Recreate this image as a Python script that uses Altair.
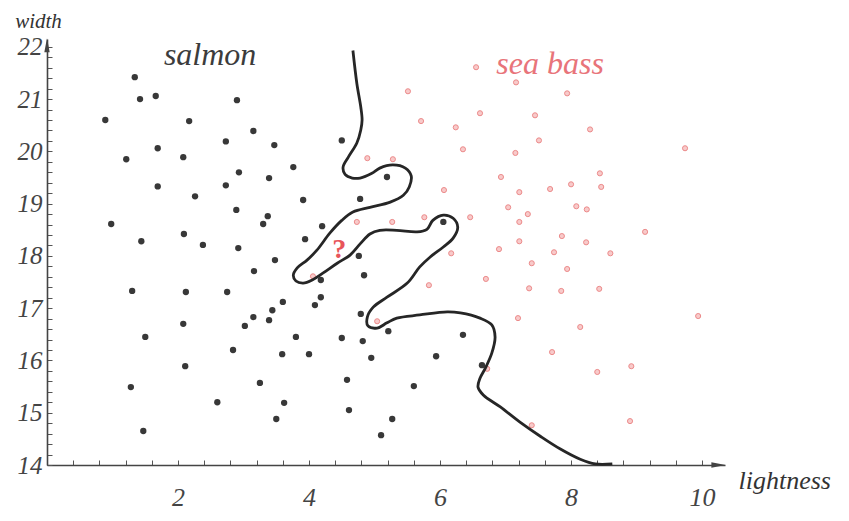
import altair as alt
import pandas as pd

# ---------------- data ----------------
salmon_lightness = [1.34, 1.42, 1.66, 2.90, 0.89, 2.17, 3.15, 2.73, 3.47, 4.50,
                    1.21, 1.69, 2.08, 2.93, 3.39, 3.76, 1.69, 2.73, 2.26, 3.91,
                    4.78, 2.89, 3.37, 3.30, 4.20, 0.98, 2.09, 1.44, 2.38, 2.92,
                    3.94, 3.48, 3.16, 4.76, 4.18, 4.84, 1.30, 2.12, 2.75, 4.18,
                    3.60, 4.09, 3.44, 2.08, 3.15, 3.02, 3.39, 4.79, 1.50, 3.80,
                    4.50, 4.82, 2.84, 3.59, 4.00, 4.95, 2.11, 1.28, 3.25, 4.58,
                    2.60, 3.62, 4.61, 3.50, 1.47, 5.19, 6.05, 5.21, 6.35, 5.94,
                    6.64, 5.60, 5.27, 5.10]
salmon_width = [21.42, 21.00, 21.06, 20.98, 20.60, 20.58, 20.39, 20.19, 20.12, 20.21,
                19.85, 20.06, 19.89, 19.60, 19.49, 19.70, 19.33, 19.35, 19.14, 19.07,
                19.09, 18.88, 18.76, 18.61, 18.57, 18.61, 18.42, 18.28, 18.21, 18.15,
                18.32, 17.92, 17.71, 18.00, 17.54, 17.63, 17.33, 17.31, 17.31, 17.21,
                17.12, 17.06, 16.96, 16.70, 16.83, 16.66, 16.77, 16.89, 16.45, 16.45,
                16.43, 16.37, 16.20, 16.12, 16.12, 16.05, 15.89, 15.49, 15.57, 15.63,
                15.20, 15.19, 15.05, 14.88, 14.65, 19.51, 18.65, 16.56, 16.49, 16.08,
                15.91, 15.51, 14.88, 14.57]

seabass_lightness = [6.55, 7.16, 5.51, 7.94, 6.61, 7.45, 5.71, 6.24, 8.29, 7.51,
                     9.74, 6.35, 7.15, 4.89, 5.28, 8.44, 6.93, 8.00, 8.46, 7.68,
                     6.06, 7.21, 8.08, 7.04, 8.24, 7.34, 5.76, 6.46, 4.73, 5.27,
                     7.21, 9.13, 7.86, 7.21, 8.23, 6.90, 6.17, 7.74, 8.60, 7.40,
                     7.94, 4.06, 6.70, 5.83, 7.36, 7.85, 8.43, 9.94, 7.19, 5.04,
                     8.14, 7.71, 8.92, 6.72, 8.40, 8.90, 7.40]
seabass_width = [21.61, 21.32, 21.15, 21.11, 20.73, 20.69, 20.58, 20.46, 20.42, 20.21,
                 20.06, 20.04, 19.97, 19.87, 19.85, 19.58, 19.51, 19.37, 19.32, 19.28,
                 19.26, 19.22, 18.95, 18.93, 18.89, 18.80, 18.74, 18.74, 18.65, 18.65,
                 18.65, 18.46, 18.38, 18.28, 18.26, 18.13, 18.05, 18.07, 18.05, 17.86,
                 17.75, 17.61, 17.56, 17.44, 17.38, 17.33, 17.37, 16.85, 16.81, 16.75,
                 16.64, 16.16, 15.89, 15.84, 15.78, 14.84, 14.76]

boundary_lightness = [4.67, 4.73, 4.79, 4.81, 4.79, 4.73, 4.60, 4.52, 4.55, 4.66,
                      4.78, 4.96, 5.08, 5.28, 5.47, 5.56, 5.53, 5.44, 5.24, 4.93,
                      4.67, 4.50, 4.32, 4.12, 3.97, 3.82, 3.76, 3.80, 3.91, 4.05,
                      4.21, 4.43, 4.63, 4.78, 4.93, 5.08, 5.34, 5.65, 5.80, 5.89,
                      6.05, 6.20, 6.27, 6.20, 6.05, 5.85, 5.69, 5.50, 5.19, 4.98,
                      4.89, 4.90, 5.04, 5.19, 5.34, 5.69, 6.11, 6.31, 6.61, 6.79,
                      6.84, 6.79, 6.69, 6.61, 6.58, 6.66, 6.92, 7.22, 7.53, 7.83,
                      8.14, 8.37, 8.63]
boundary_width = [21.93, 21.30, 20.85, 20.60, 20.41, 20.16, 19.89, 19.70, 19.56, 19.49,
                  19.49, 19.58, 19.68, 19.74, 19.68, 19.53, 19.32, 19.16, 19.03, 18.93,
                  18.84, 18.68, 18.44, 18.11, 17.92, 17.77, 17.63, 17.52, 17.48, 17.54,
                  17.67, 17.86, 18.02, 18.23, 18.42, 18.49, 18.49, 18.46, 18.51, 18.68,
                  18.78, 18.72, 18.55, 18.34, 18.17, 17.98, 17.79, 17.48, 17.21, 17.02,
                  16.83, 16.66, 16.62, 16.72, 16.81, 16.87, 16.93, 16.91, 16.81, 16.68,
                  16.45, 16.14, 15.85, 15.66, 15.49, 15.34, 15.11, 14.82, 14.55, 14.31,
                  14.11, 14.02, 14.02]

x_ticks = [round(0.4 * i, 2) for i in range(0, 26)]
y_ticks = [round(14 + 0.2 * i, 2) for i in range(0, 41)]
x_domain = [0, 10.35]
y_domain = [14, 22.15]

label_text = ["salmon", "sea bass", "?"]
label_lightness = [2.49, 7.68, 4.46]
label_width = [21.65, 21.48, 17.96]

# ---------------- tables ----------------
salmon = pd.DataFrame({"lightness": salmon_lightness, "width": salmon_width})
seabass = pd.DataFrame({"lightness": seabass_lightness, "width": seabass_width})
boundary = pd.DataFrame({"lightness": boundary_lightness, "width": boundary_width,
                         "i": list(range(len(boundary_lightness)))})
labels = pd.DataFrame({"text": label_text, "lightness": label_lightness, "width": label_width})
arrows = pd.DataFrame({"lightness": [10.25, 0.0], "width": [14.0, 22.03],
                       "kind": ["right", "up"]})

SERIF = "Liberation Serif"
xs = alt.Scale(domain=x_domain, nice=False, zero=False)
ys = alt.Scale(domain=y_domain, nice=False, zero=False)

x_axis = alt.Axis(
    values=x_ticks, grid=False,
    labelExpr="datum.value > 1 && abs(datum.value/2 - round(datum.value/2)) < 0.01 ? format(datum.value, 'd') : ''",
    labelFont=SERIF, labelFontStyle="italic", labelFontSize=26, labelColor="#444",
    labelPadding=24, labelBaseline="top",
    tickSize={"expr": "-5"}, tickColor="#555", tickWidth=1,
    domainColor="#444", domainWidth=1.6,
    title="lightness", titleFont=SERIF, titleFontStyle="italic", titleFontWeight="normal",
    titleFontSize=26, titleColor="#333", titleAngle=0, titleAlign="left",
    titleBaseline="alphabetic", titleX=691, titleY=23,
)
y_axis = alt.Axis(
    values=y_ticks, grid=False,
    labelExpr="abs(datum.value - round(datum.value)) < 0.01 ? format(datum.value, 'd') : ''",
    labelFont=SERIF, labelFontStyle="italic", labelFontSize=25, labelColor="#444",
    labelPadding=10,
    tickSize={"expr": "-5"}, tickColor="#555", tickWidth=1,
    domainColor="#444", domainWidth=1.6,
    title="width", titleFont=SERIF, titleFontStyle="italic", titleFontWeight="normal",
    titleFontSize=21, titleColor="#333", titleAngle=0, titleAlign="center",
    titleBaseline="alphabetic", titleX=-9, titleY=-12,
)

X = alt.X("lightness:Q", scale=xs, axis=x_axis)
Y = alt.Y("width:Q", scale=ys, axis=y_axis)

salmon_layer = alt.Chart(salmon).mark_circle(size=40, color="#383838", opacity=1).encode(x=X, y=Y)

seabass_layer = alt.Chart(seabass).mark_circle(
    size=26, fill="#F8CACA", stroke="#EC8A8A", strokeWidth=1, opacity=1
).encode(x=X, y=Y)

curve = alt.Chart(boundary).mark_line(
    interpolate="catmull-rom", color="#262626", strokeWidth=2.8
).encode(x=X, y=Y, order="i:Q")

salmon_text = alt.Chart(labels[labels.text == "salmon"]).mark_text(
    font=SERIF, fontStyle="italic", fontSize=32, color="#3c3c3c", baseline="alphabetic"
).encode(x=X, y=Y, text="text:N")

bass_text = alt.Chart(labels[labels.text == "sea bass"]).mark_text(
    font=SERIF, fontStyle="italic", fontSize=32, color="#E8747A", baseline="alphabetic"
).encode(x=X, y=Y, text="text:N")

q_text = alt.Chart(labels[labels.text == "?"]).mark_text(
    font=SERIF, fontWeight="bold", fontSize=28, color="#E8555A", baseline="alphabetic"
).encode(x=X, y=Y, text="text:N")

arrow_right = alt.Chart(arrows[arrows.kind == "right"]).mark_point(
    shape="M 1 0 L -1 0.38 L -1 -0.38 Z", filled=True, size=200, color="#444", opacity=1
).encode(x=X, y=Y)

arrow_up = alt.Chart(arrows[arrows.kind == "up"]).mark_point(
    shape="M 0 -1 L 0.38 1 L -0.38 1 Z", filled=True, size=200, color="#444", opacity=1
).encode(x=X, y=Y)

chart = alt.layer(
    salmon_layer, seabass_layer, curve, salmon_text, bass_text, q_text, arrow_right, arrow_up
).properties(
    width=678, height=426,
    padding={"left": 39, "top": 31, "right": 110, "bottom": 48},
    autosize=alt.AutoSizeParams(type="none"),
    background="white",
).configure_view(stroke=None)

chart.save("out.html", embed_options={"renderer": "svg", "actions": False})
